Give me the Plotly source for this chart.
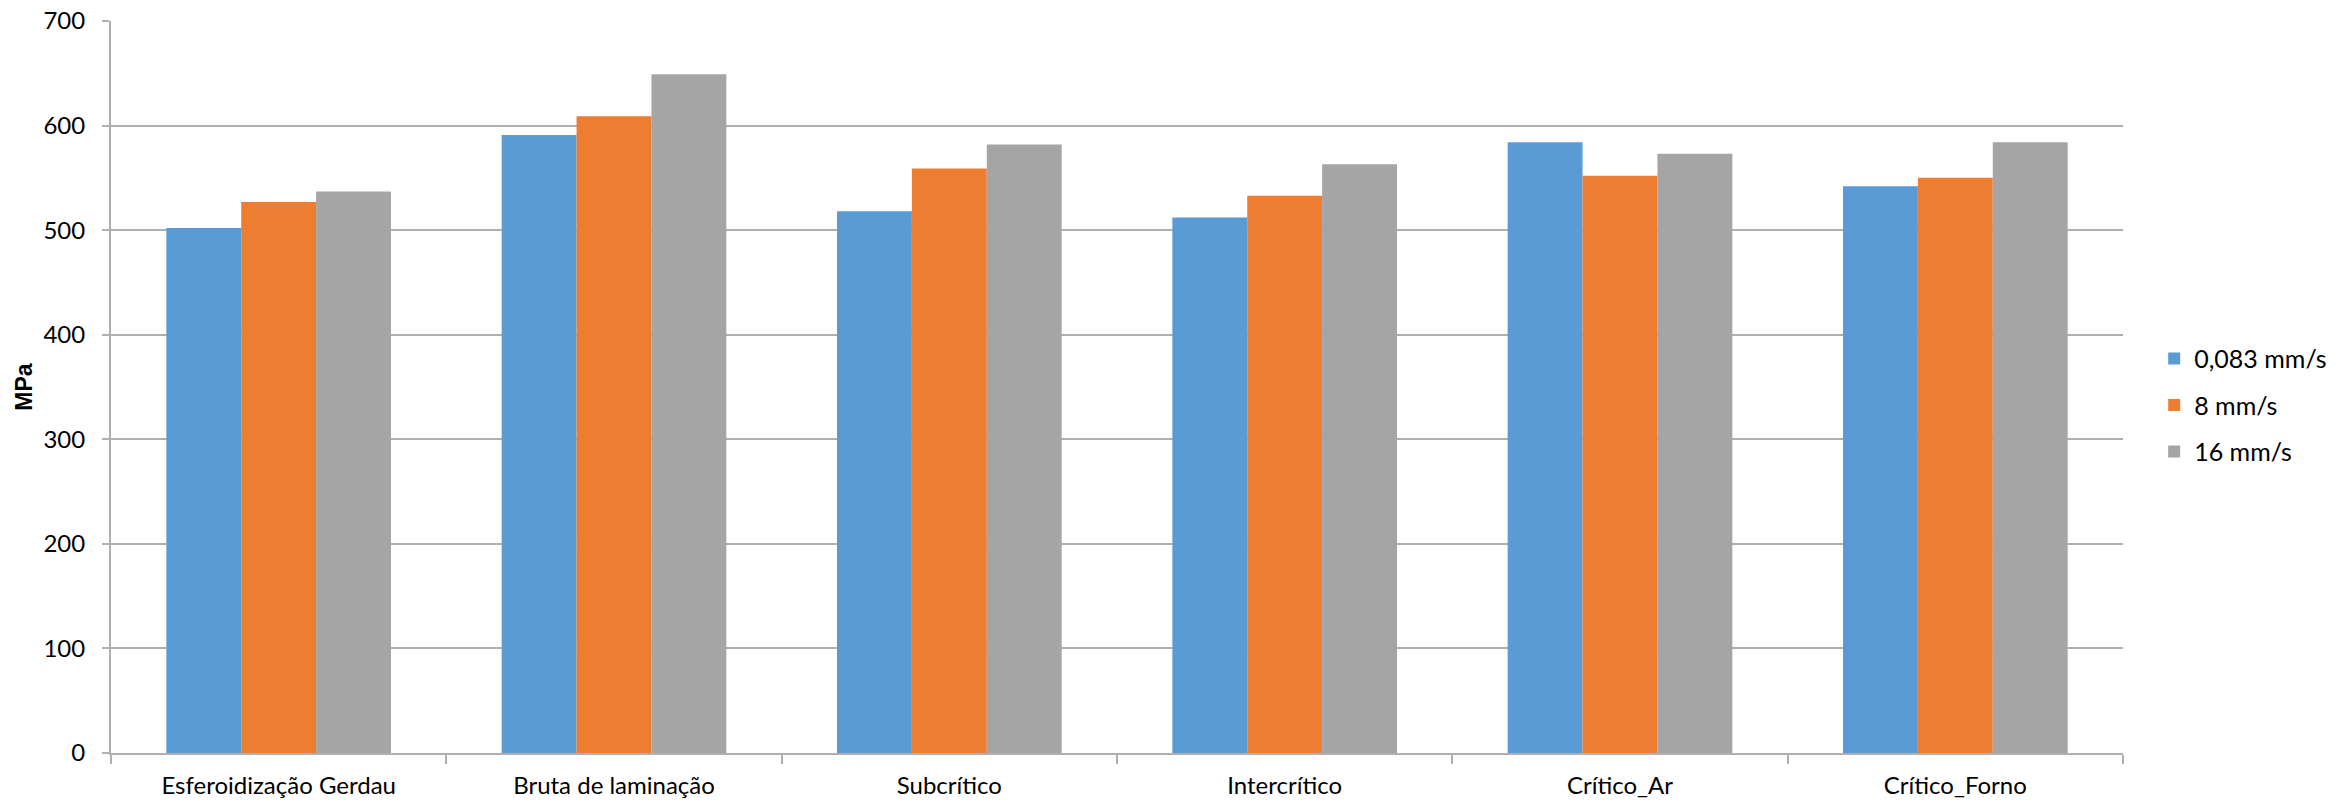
import plotly.graph_objects as go

categories = ["Esferoidização Gerdau", "Bruta de laminação", "Subcrítico",
              "Intercrítico", "Crítico_Ar", "Crítico_Forno"]
series_names = ["0,083 mm/s", "8 mm/s", "16 mm/s"]
v_0083 = [502, 591, 518, 512, 584, 542]
v_8 = [527, 609, 559, 533, 552, 550]
v_16 = [537, 649, 582, 563, 573, 584]
colors = ["#5B9BD5", "#ED7D31", "#A5A5A5"]
y_ticks = [0, 100, 200, 300, 400, 500, 600, 700]

fig = go.Figure()
for i, (name, vals) in enumerate(zip(series_names, [v_0083, v_8, v_16])):
    fig.add_trace(go.Bar(x=categories, y=vals, name=name,
                         marker=dict(color=colors[i], line=dict(width=0)),
                         legendgroup=str(i)))

font_main = "Lato, Calibri, Carlito, sans-serif"
grid_c = "#B0B0B0"

fig.update_layout(
    width=2348, height=806,
    margin=dict(l=111, r=225, t=21, b=53, autoexpand=False),
    paper_bgcolor="white", plot_bgcolor="white",
    barmode="group", bargap=0.33, bargroupgap=0,
    font=dict(family=font_main, size=24, color="#000000"),
    showlegend=True,
    legend=dict(x=1.0155, xanchor="left", y=0.475, yanchor="middle",
                font=dict(family=font_main, size=25, color="#000000"),
                tracegroupgap=11, bgcolor="rgba(0,0,0,0)"),
    xaxis=dict(showline=True, linecolor=grid_c, linewidth=2,
               ticks="outside", tickson="boundaries", ticklen=9,
               tickcolor=grid_c, tickwidth=2, automargin=False,
               tickfont=dict(family=font_main, size=24, color="#000000"),
               ticklabelstandoff=10, showgrid=False),
    yaxis=dict(range=[0, 700], tickvals=y_ticks, automargin=False,
               showline=True, linecolor=grid_c, linewidth=2,
               showgrid=True, gridcolor=grid_c, gridwidth=2,
               zeroline=False,
               ticks="outside", ticklen=7, tickcolor=grid_c, tickwidth=2,
               tickfont=dict(family=font_main, size=24, color="#000000"),
               ticklabelstandoff=12,
               title=dict(text="<b>MPa</b>", standoff=4,
                          font=dict(family="Liberation Sans, Arial, sans-serif",
                                    size=23, color="#000000"))),
)

fig.write_html("out.html")
